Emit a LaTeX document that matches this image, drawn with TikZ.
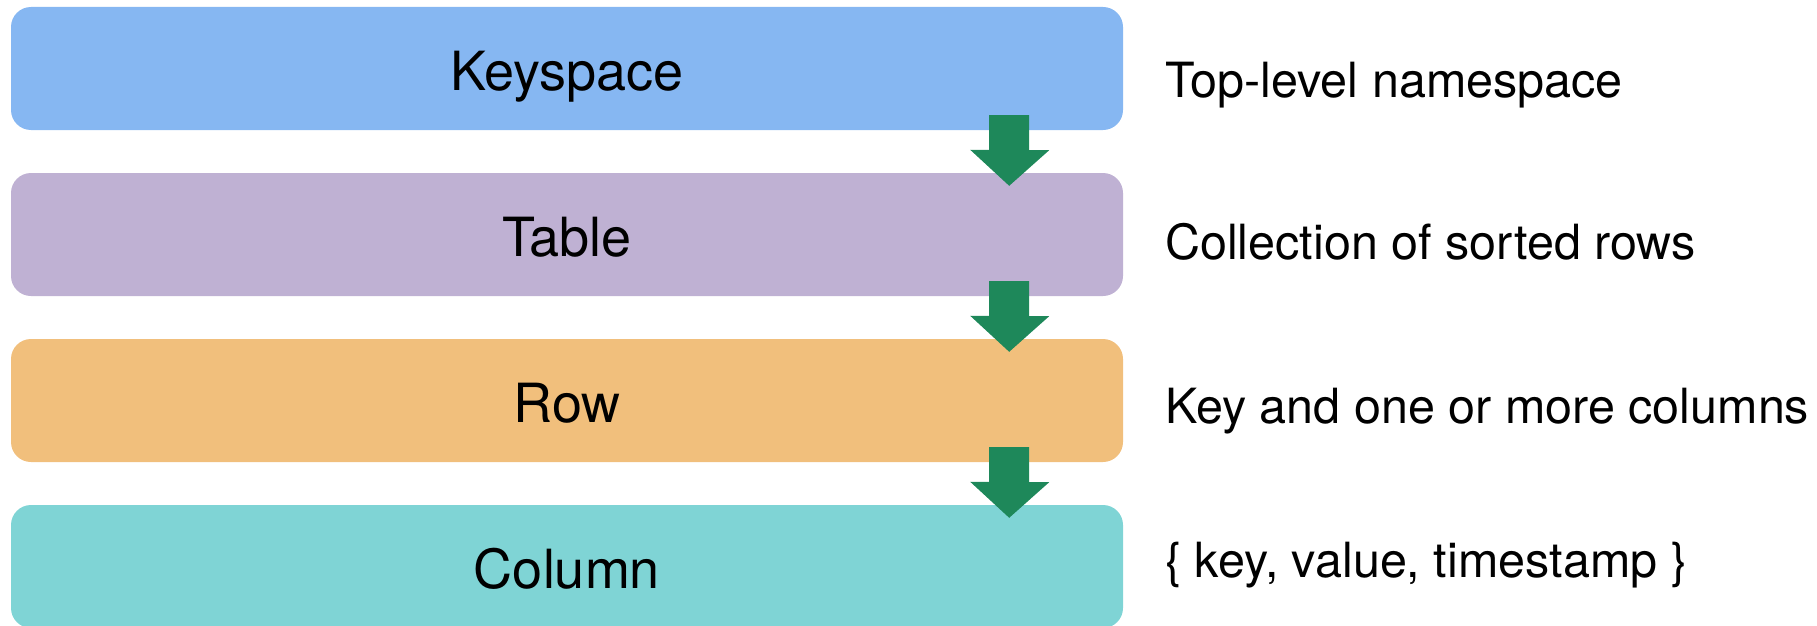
\documentclass[tikz,border=0pt]{standalone}
\usepackage{fontspec}
\setmainfont{TeX Gyre Heros}
\usetikzlibrary{calc}

\definecolor{ksblue}{RGB}{134,183,242}
\definecolor{tbpurple}{RGB}{191,177,211}
\definecolor{roworange}{RGB}{241,191,124}
\definecolor{colteal}{RGB}{127,212,213}
\definecolor{flowgreen}{RGB}{30,136,90}

\tikzset{
  layer/.style={rounded corners=20pt, minimum width=1112pt, minimum height=123pt,
    inner sep=0pt, text height=43pt, text depth=0pt,
    font=\fontsize{54}{62}\selectfont},
  note/.style={anchor=base west, inner sep=0pt,
    font=\fontsize{48.5}{58}\selectfont},
  flow/.style={fill=flowgreen}
}

\begin{document}
\begin{tikzpicture}[x=1pt,y=-1pt]
  \useasboundingbox (0,0) rectangle (1817,626);

  % the four storage levels
  \node[layer, fill=ksblue]    (ks) at (567,68.5)  {Keyspace};
  \node[layer, fill=tbpurple]  (tb) at (567,234.5) {Table};
  \node[layer, fill=roworange] (rw) at (567,400.5) {Row};
  \node[layer, fill=colteal]   (cl) at (567,566.5) {Column};

  % descriptions on the right
  \node[note] (ksn) at (1165,97)  {Top-level namespace};
  \node[note] (tbn) at (1165,259) {Collection of sorted rows};
  \node[note] (rwn) at (1165,423) {Key and one or more columns};
  \node[note] (cln) at (1165,577) {\{ key, value, timestamp \}};

  % block arrows from each level to the next
  \foreach \a/\b in {ks/tb, tb/rw, rw/cl}{
    \fill[flow] ($(\a.south east)+(-134,-15)$) -- ++(40,0) -- ++(0,35)
      -- ++(20,0) -- ($(\b.north east)+(-114,13)$) -- ++(-39,-36)
      -- ++(19,0) -- cycle;
  }
\end{tikzpicture}
\end{document}
